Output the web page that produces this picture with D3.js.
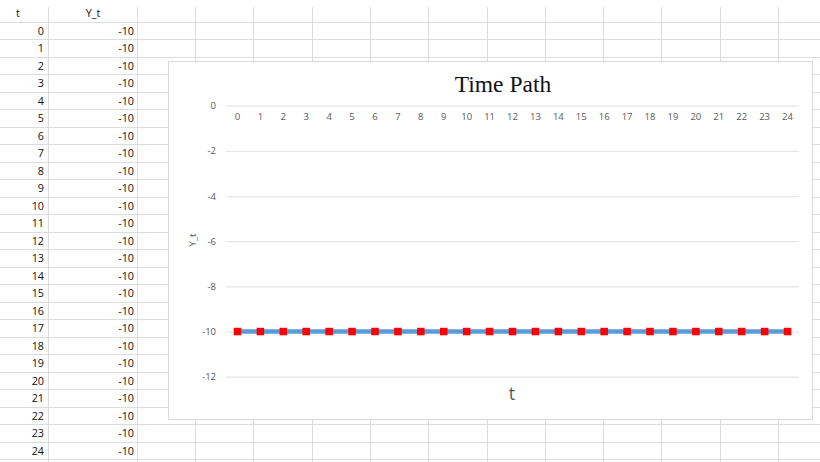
<!DOCTYPE html>
<html>
<head>
<meta charset="utf-8">
<script src="https://cdn.jsdelivr.net/npm/d3@7"></script>
<style>
  html, body { margin: 0; padding: 0; background: #fff; }
  svg { display: block; }
</style>
</head>
<body>
<svg id="sheet" width="820" height="462"></svg>
<script>
// Worksheet columns and the time path plotted from them
const periods = [0, 1, 2, 3, 4, 5, 6, 7, 8, 9, 10, 11, 12, 13, 14, 15, 16, 17, 18, 19, 20, 21, 22, 23, 24];
const yValues = [-10, -10, -10, -10, -10, -10, -10, -10, -10, -10, -10, -10, -10, -10, -10, -10, -10, -10, -10, -10, -10, -10, -10, -10, -10];
const yTicks = [0, -2, -4, -6, -8, -10, -12];
const headers = ["t", "Y_t"];
const chartTitle = "Time Path";
const xTitle = "t";
const yTitle = "Y_t";

const W = 820, H = 462;
const svg = d3.select("#sheet");
svg.append("rect").attr("width", W).attr("height", H).attr("fill", "#fff");

// ---- worksheet grid ----
const rowTop = 21.7, rowH = 17.5;
const colEdges = [47.5, 137, 195];
for (let x = 195 + 58.3; x < W; x += 58.3) colEdges.push(x);

const grid = svg.append("g").attr("stroke", "#dcdcdc").attr("stroke-width", 1).attr("shape-rendering", "crispEdges");
for (let k = 0; rowTop + k * rowH < H; k++) {
  const y = Math.round(rowTop + k * rowH) + 0.5;
  grid.append("line").attr("x1", 0).attr("x2", W).attr("y1", y).attr("y2", y);
}
colEdges.forEach(x => {
  const xx = Math.round(x) + 0.5;
  grid.append("line").attr("x1", xx).attr("x2", xx).attr("y1", 7).attr("y2", H);
});

const cellFont = "'Open Sans', 'Noto Sans', sans-serif";
const cells = svg.append("g").attr("font-family", cellFont).attr("font-size", 10.8).attr("fill", "#111");
cells.append("text").attr("x", 16).attr("y", rowTop - 4.5).text(headers[0]);
cells.append("text").attr("x", 93).attr("y", rowTop - 4.5).attr("text-anchor", "middle").text(headers[1]);
periods.forEach((p, i) => {
  const yb = rowTop + (i + 1) * rowH - 4.5;
  cells.append("text").attr("x", 44).attr("y", yb).attr("text-anchor", "end").text(p);
  cells.append("text").attr("x", 134).attr("y", yb).attr("text-anchor", "end").text(yValues[i]);
});

// ---- embedded chart ----
const box = { x: 168.5, y: 61.5, w: 644, h: 358 };
const chart = svg.append("g");
chart.append("rect")
  .attr("x", box.x).attr("y", box.y).attr("width", box.w).attr("height", box.h)
  .attr("fill", "#fff").attr("stroke", "#d9d9d9").attr("stroke-width", 1);

const plot = { left: 226, right: 799, top: 105.7, bottom: 376.7 };

const x = d3.scaleBand().domain(periods).range([plot.left, plot.right]).padding(0);
const y = d3.scaleLinear().domain([-12, 0]).range([plot.bottom, plot.top]);

// horizontal gridlines, plain hyphen minus in the labels
const yAxis = d3.axisLeft(y).tickValues(yTicks).tickFormat(d => String(d))
  .tickSize(-(plot.right - plot.left)).tickPadding(10);
const yg = chart.append("g").attr("transform", `translate(${plot.left},0)`).call(yAxis);
yg.select(".domain").remove();
yg.selectAll(".tick line").attr("stroke", "#e6e6e6").attr("stroke-width", 1.3);
yg.selectAll(".tick text")
  .attr("fill", "#595959").attr("font-size", 9.5)
  .attr("font-family", cellFont);

// category labels sit just under the zero line
const xAxis = d3.axisBottom(x).tickSize(0).tickPadding(0);
const xg = chart.append("g").attr("transform", `translate(0,${y(0) + 8})`).call(xAxis);
xg.select(".domain").remove();
xg.selectAll(".tick text")
  .attr("fill", "#595959").attr("font-size", 9.5)
  .attr("font-family", cellFont);

// series line and markers
const cx = d => x(d) + x.bandwidth() / 2;
const line = d3.line().x((d, i) => cx(periods[i])).y(d => y(d));
chart.append("path").datum(yValues)
  .attr("d", line).attr("fill", "none")
  .attr("stroke", "#5b9bd5").attr("stroke-width", 4.5);

const ms = 7.5;
chart.append("g").selectAll("rect").data(yValues).join("rect")
  .attr("x", (d, i) => cx(periods[i]) - ms / 2)
  .attr("y", d => y(d) - ms / 2)
  .attr("width", ms).attr("height", ms)
  .attr("fill", "#ff0000");

// titles
chart.append("text")
  .attr("x", 503).attr("y", 91.5).attr("text-anchor", "middle")
  .attr("font-family", "'Liberation Serif', 'DejaVu Serif', serif")
  .attr("font-size", 23.5).attr("fill", "#111")
  .text(chartTitle);

chart.append("text")
  .attr("x", 512).attr("y", 400).attr("text-anchor", "middle")
  .attr("font-family", cellFont).attr("font-size", 18).attr("fill", "#595959")
  .text(xTitle);

chart.append("text")
  .attr("transform", "translate(196,240) rotate(-90)")
  .attr("text-anchor", "middle")
  .attr("font-family", cellFont).attr("font-size", 9.5).attr("fill", "#595959")
  .text(yTitle);
</script>
</body>
</html>
